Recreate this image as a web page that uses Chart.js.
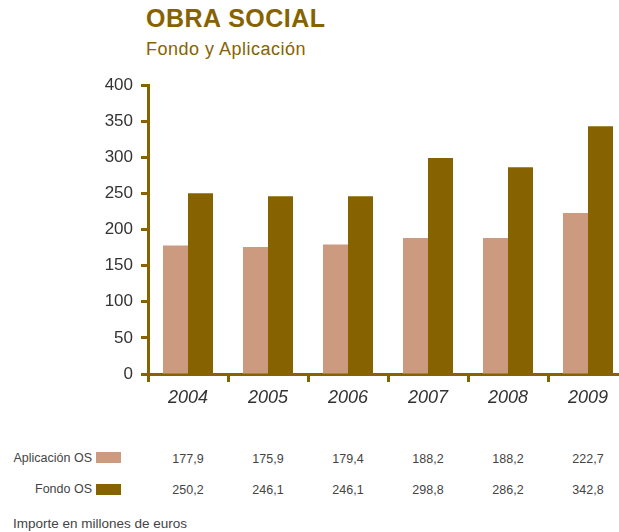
<!DOCTYPE html>
<html>
<head>
<meta charset="utf-8">
<title>Obra Social</title>
<script src="https://cdn.jsdelivr.net/npm/chart.js@4/dist/chart.umd.min.js"></script>
<style>
  html, body { margin: 0; padding: 0; background: #fff; }
  body {
    width: 619px; height: 532px; overflow: hidden; position: relative;
    font-family: "Liberation Sans", Arial, sans-serif;
  }
  #plot { position: absolute; left: 0; top: 0; }
  .title {
    position: absolute; left: 146px; top: 6px; line-height: 1;
    font-size: 25px; font-weight: bold; color: #876300;
    letter-spacing: 0.5px; white-space: nowrap;
  }
  .subtitle {
    position: absolute; left: 146px; top: 40px; line-height: 1;
    font-size: 18px; color: #876300; letter-spacing: 0.5px; white-space: nowrap;
  }
  .rowlabel {
    position: absolute; right: 527px; line-height: 1;
    font-size: 12.5px; color: #444; white-space: nowrap;
  }
  .swatch { position: absolute; left: 96px; width: 25px; height: 11px; }
  .val {
    position: absolute; line-height: 1; font-size: 12.5px; color: #444;
    transform: translateX(-50%); white-space: nowrap;
  }
  .note {
    position: absolute; left: 13px; top: 517px; line-height: 1;
    font-size: 13.5px; color: #444; white-space: nowrap;
  }
</style>
</head>
<body>
<div class="title">OBRA SOCIAL</div>
<div class="subtitle">Fondo y Aplicación</div>
<canvas id="plot" width="640" height="430"></canvas>
<div id="table"></div>
<div class="note">Importe en millones de euros</div>

<script>
// Años y series (millones de euros)
const years = ['2004', '2005', '2006', '2007', '2008', '2009'];
const aplicacionOS = [177.9, 175.9, 179.4, 188.2, 188.2, 222.7];
const fondoOS = [250.2, 246.1, 246.1, 298.8, 286.2, 342.8];
const yTickValues = [0, 50, 100, 150, 200, 250, 300, 350, 400];
const seriesNames = ['Aplicación OS', 'Fondo OS'];

const GOLD = '#876300';
const SALMON = '#CC9A7E';

Chart.defaults.font.family = '"Liberation Sans", Arial, sans-serif';

const chart = new Chart(document.getElementById('plot'), {
  type: 'bar',
  data: {
    labels: years,
    datasets: [
      { label: seriesNames[0], data: aplicacionOS, backgroundColor: SALMON, borderWidth: 0 },
      { label: seriesNames[1], data: fondoOS, backgroundColor: GOLD, borderWidth: 0 }
    ]
  },
  options: {
    responsive: false,
    animation: false,
    devicePixelRatio: 1,
    layout: { padding: { top: 85, right: 12, left: 0, bottom: 0 } },
    datasets: { bar: { categoryPercentage: 0.625, barPercentage: 1 } },
    plugins: { legend: { display: false }, tooltip: { enabled: false } },
    scales: {
      x: {
        offset: true,
        grid: {
          display: true, offset: true, drawOnChartArea: false, drawTicks: true,
          tickLength: 8, tickWidth: 3, tickColor: GOLD
        },
        border: { display: true, color: GOLD, width: 3 },
        ticks: { color: '#333', padding: 5, font: { size: 18, style: 'italic' } },
        afterFit(scale) { scale.height = 56; }
      },
      y: {
        min: 0, max: 400,
        afterBuildTicks(scale) { scale.ticks = yTickValues.map(v => ({ value: v })); },
        grid: {
          drawOnChartArea: false, drawTicks: true,
          tickLength: 7, tickWidth: 3, tickColor: GOLD
        },
        border: { display: true, color: GOLD, width: 3 },
        ticks: { color: '#333', padding: 8, font: { size: 17 } },
        afterFit(scale) { scale.width = 148; }
      }
    }
  }
});

// Tabla de valores bajo el gráfico, alineada con cada año
const table = document.getElementById('table');
const fmt = v => v.toFixed(1).replace('.', ',');
const rows = [
  { name: seriesNames[0], values: aplicacionOS, color: SALMON, textTop: 452, swatchTop: 452 },
  { name: seriesNames[1], values: fondoOS, color: GOLD, textTop: 483, swatchTop: 484 }
];
rows.forEach(row => {
  const lab = document.createElement('div');
  lab.className = 'rowlabel';
  lab.style.top = row.textTop + 'px';
  lab.textContent = row.name;
  table.appendChild(lab);

  const sw = document.createElement('div');
  sw.className = 'swatch';
  sw.style.top = row.swatchTop + 'px';
  sw.style.background = row.color;
  table.appendChild(sw);

  row.values.forEach((v, i) => {
    const d = document.createElement('div');
    d.className = 'val';
    d.style.left = chart.scales.x.getPixelForValue(i) + 'px';
    d.style.top = (row.textTop + 1) + 'px';
    d.textContent = fmt(v);
    table.appendChild(d);
  });
});
</script>
</body>
</html>
